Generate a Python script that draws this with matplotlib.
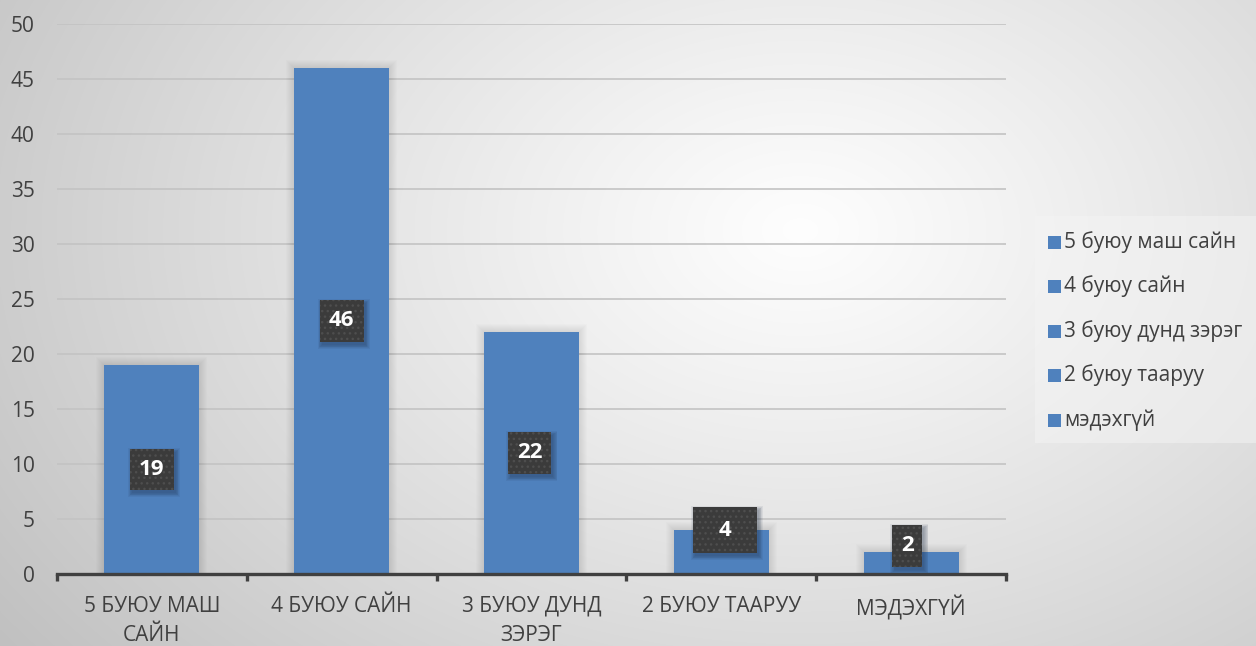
import numpy as np
import matplotlib
matplotlib.use("Agg")
import matplotlib.pyplot as plt
from matplotlib.patches import Rectangle
from matplotlib.transforms import ScaledTranslation

# --- data -------------------------------------------------------------
categories = ["5 БУЮУ МАШ\nСАЙН", "4 БУЮУ САЙН", "3 БУЮУ ДУНД\nЗЭРЭГ",
              "2 БУЮУ ТААРУУ", "МЭДЭХГҮЙ"]
values = [19, 46, 22, 4, 2]
legend_labels = ["5 буюу маш сайн", "4 буюу сайн", "3 буюу дунд зэрэг",
                 "2 буюу тааруу", "мэдэхгүй"]
yticks = [0, 5, 10, 15, 20, 25, 30, 35, 40, 45, 50]

# --- style ------------------------------------------------------------
FONT = ["Open Sans", "DejaVu Sans"]
plt.rcParams["font.family"] = FONT
BAR = "#4f81bd"
TEXT = "#404040"
W, H, DPI = 1256, 646, 100
FS = 15

fig = plt.figure(figsize=(W / DPI, H / DPI), dpi=DPI)

# soft radial background
bg = fig.add_axes([0, 0, 1, 1], zorder=-10)
yy, xx = np.mgrid[0:H, 0:W]
r = np.sqrt(((xx - 800) / 800.0) ** 2 + ((yy - 230) / 560.0) ** 2)
shade = 0.995 - 0.19 * np.clip(r, 0, 1.3) ** 1.1
rgb = np.dstack([shade] * 3)
bg.imshow(rgb, aspect="auto", extent=[0, 1, 0, 1], origin="upper",
          interpolation="bilinear")
bg.set_axis_off()

# plot area
x0, x1, y0, y1 = 57, 1006, 574, 24
ax = fig.add_axes([x0 / W, (H - y0) / H, (x1 - x0) / W, (y0 - y1) / H])
ax.patch.set_alpha(0)
ax.set_xlim(-0.5, len(values) - 0.5)
ax.set_ylim(0, 50)

x = np.arange(len(values))

# faint halo behind bars
for k in range(1, 9):
    for xi, v in zip(x, values):
        dx = k / 190.0
        dy = k / 11.0
        ax.add_patch(Rectangle((xi - 0.25 - dx, 0), 0.5 + 2 * dx, v + dy,
                               facecolor="#000000", alpha=0.01,
                               linewidth=0, zorder=1))

ax.bar(x, values, width=0.5, color=BAR, zorder=2)

ax.set_yticks(yticks)
ax.yaxis.grid(True, color="#c3c3c3", linewidth=1.2, zorder=0)
ax.set_axisbelow(True)
ax.tick_params(axis="y", length=0, pad=16, labelsize=FS, labelcolor=TEXT)

ax.set_xticks(x)
ax.set_xticklabels(categories, linespacing=1.5)
ax.tick_params(axis="x", which="major", length=0, pad=15.5, labelsize=FS,
               labelcolor=TEXT)
ax.set_xticks(np.arange(-0.5, len(values)), minor=True)
ax.tick_params(axis="x", which="minor", length=5, width=2.4, color=TEXT,
               direction="out")

for s in ("top", "right", "left"):
    ax.spines[s].set_visible(False)
ax.spines["bottom"].set_color(TEXT)
ax.spines["bottom"].set_linewidth(2.4)
ax.spines["bottom"].set_zorder(5)

# value labels in dark boxes (centre in data coords, box size in px)
label_pos = [(0.0, 9.5, 44, 41), (0.0, 23.0, 44, 42), (-0.008, 11.0, 43, 42),
             (0.02, 4.0, 64, 46), (-0.02, 2.55, 30, 42)]
for xi, v, (ox, ly, bw, bh) in zip(x, values, label_pos):
    tr = fig.dpi_scale_trans + ScaledTranslation(xi + ox, ly, ax.transData)
    # soft drop shadow
    for k in range(6):
        g = k * 0.8 / 100
        ax.add_patch(Rectangle((-bw / 200 + 0.02 - g, -bh / 200 - 0.03 - g),
                               bw / 100 + 2 * g, bh / 100 + 2 * g,
                               transform=tr, facecolor="#1a2a40",
                               alpha=0.07, linewidth=0, zorder=5))
    ax.add_patch(Rectangle((-bw / 200, -bh / 200), bw / 100, bh / 100,
                           transform=tr, facecolor="#3b3b3b",
                           edgecolor="#4e4e4e", hatch="...", linewidth=0,
                           zorder=6))
    ax.text(0, 0, str(v), transform=tr, ha="center", va="center",
            color="white", fontsize=16, fontweight="bold", zorder=7)

# legend
fig.patches.append(Rectangle((1035 / W, (H - 443) / H), 221 / W, 227 / H,
                             transform=fig.transFigure, facecolor="#f4f4f4",
                             alpha=0.5, linewidth=0, zorder=-5))
for i, lab in enumerate(legend_labels):
    cy = 242 + i * 44.5
    fig.patches.append(Rectangle((1048 / W, (H - cy - 6.5) / H), 13 / W,
                                 13 / H, transform=fig.transFigure,
                                 facecolor=BAR, linewidth=0))
    fig.text(1064 / W, (H - cy) / H, lab, ha="left", va="center",
             fontsize=FS, color=TEXT)

fig.savefig("out.png", dpi=DPI)
